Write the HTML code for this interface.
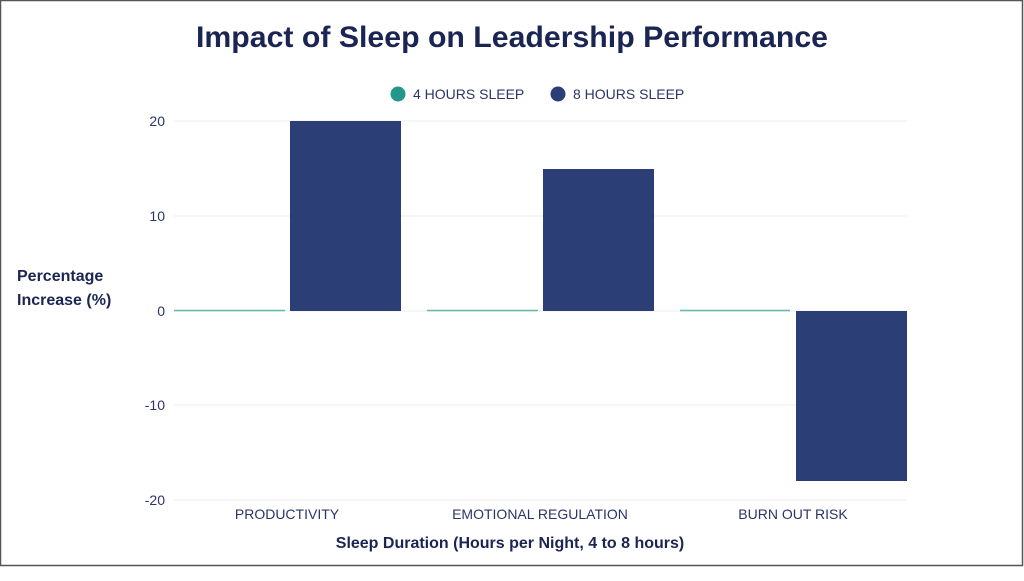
<!DOCTYPE html>
<html><head><meta charset="utf-8"><style>
html,body{margin:0;padding:0;background:#fff;}
body{width:1024px;height:576px;overflow:hidden;font-family:"Liberation Sans",sans-serif;}
</style></head><body>
<svg width="1024" height="576" xmlns="http://www.w3.org/2000/svg" font-family="Liberation Sans, sans-serif">
<rect x="0.5" y="0.5" width="1022" height="565" fill="#fff" stroke="#555" stroke-width="1.5"/>
<text x="512" y="47" text-anchor="middle" font-size="30" font-weight="bold" fill="#1b2553" textLength="632" lengthAdjust="spacingAndGlyphs">Impact of Sleep on Leadership Performance</text>
<circle cx="398" cy="94" r="7.5" fill="#22978a"/>
<text x="413" y="99" font-size="14" fill="#2b3566">4 HOURS SLEEP</text>
<circle cx="558" cy="94" r="7.5" fill="#2b3f76"/>
<text x="573" y="99" font-size="14" fill="#2b3566">8 HOURS SLEEP</text>
<g stroke="#ececec" stroke-width="1">
<line x1="174" x2="907" y1="121" y2="121"/>
<line x1="174" x2="907" y1="216" y2="216"/>
<line x1="174" x2="907" y1="311" y2="311"/>
<line x1="174" x2="907" y1="405" y2="405"/>
<line x1="174" x2="907" y1="500" y2="500"/>
</g>
<g font-size="14" fill="#2b3566" text-anchor="end">
<text x="165" y="126">20</text>
<text x="165" y="221">10</text>
<text x="165" y="316">0</text>
<text x="165" y="410">-10</text>
<text x="165" y="505">-20</text>
</g>
<g fill="#2b3f76">
<rect x="290" y="121" width="111" height="190"/>
<rect x="543" y="169" width="111" height="142"/>
<rect x="796" y="311" width="111" height="170"/>
</g>
<g stroke="#5fb8a8" stroke-width="1.5">
<line x1="174" x2="285" y1="310.5" y2="310.5"/>
<line x1="427" x2="538" y1="310.5" y2="310.5"/>
<line x1="680" x2="790" y1="310.5" y2="310.5"/>
</g>
<g font-size="14" fill="#2b3566" text-anchor="middle">
<text x="287" y="519">PRODUCTIVITY</text>
<text x="540" y="519">EMOTIONAL REGULATION</text>
<text x="793" y="519">BURN OUT RISK</text>
</g>
<text x="510" y="548" text-anchor="middle" font-size="16" font-weight="bold" fill="#1b2553">Sleep Duration (Hours per Night, 4 to 8 hours)</text>
<text x="17" y="281" font-size="16" font-weight="bold" fill="#1b2553">Percentage</text>
<text x="17" y="305" font-size="16" font-weight="bold" fill="#1b2553">Increase (%)</text>
</svg>
</body></html>
